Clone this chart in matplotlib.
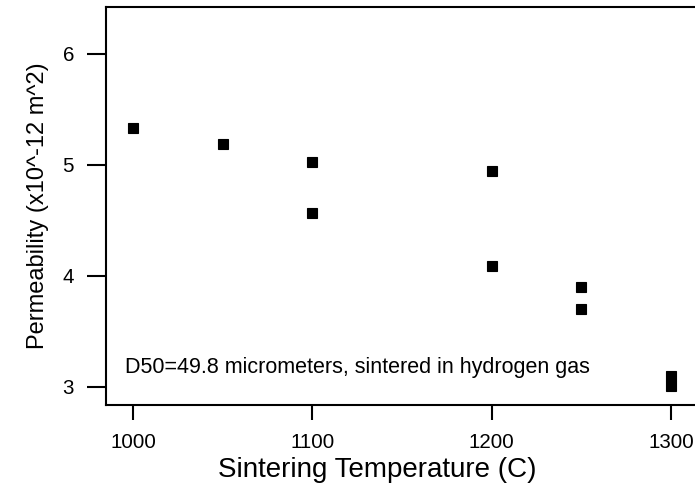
import matplotlib
matplotlib.use("Agg")
import matplotlib.pyplot as plt

plt.rcParams['font.family'] = ['Liberation Sans', 'DejaVu Sans']

# Sintering temperature (C) and measured permeability (x10^-12 m^2)
temperature = [1000, 1050, 1100, 1100, 1200, 1200, 1250, 1250, 1300, 1300]
permeability = [5.33, 5.19, 5.03, 4.57, 4.95, 4.09, 3.90, 3.70, 3.10, 3.01]

x_ticks = [1000, 1100, 1200, 1300]
y_ticks = [3, 4, 5, 6]
note = "D50=49.8 micrometers, sintered in hydrogen gas"

fig = plt.figure(figsize=(6.95, 4.91), dpi=100)
ax = fig.add_axes([0.1525, 0.1752, 0.8475, 0.8105])

ax.plot(temperature, permeability, linestyle='none', marker='s',
        markersize=6.5, color='black', markeredgewidth=0.8)

ax.set_xlim(984.9, 1313.4)
ax.set_ylim(2.838, 6.423)
ax.set_xticks(x_ticks)
ax.set_yticks(y_ticks)
ax.tick_params(axis='both', labelsize=14.8, width=1.5, colors='black')
ax.tick_params(axis='x', length=11, pad=9)
ax.tick_params(axis='y', length=14, pad=9)

for side in ['left', 'top', 'bottom']:
    ax.spines[side].set_linewidth(1.5)
ax.spines['right'].set_visible(False)

ax.set_xlabel("Sintering Temperature (C)", fontsize=20)
ax.xaxis.set_label_coords(0.46, -0.13)
ax.set_ylabel("Permeability (x10^-12 m^2)", fontsize=17, labelpad=10)

ax.text(0.032, 0.093, note, transform=ax.transAxes, fontsize=15.5,
        va='center', ha='left')

fig.savefig("out.png", dpi=100)
